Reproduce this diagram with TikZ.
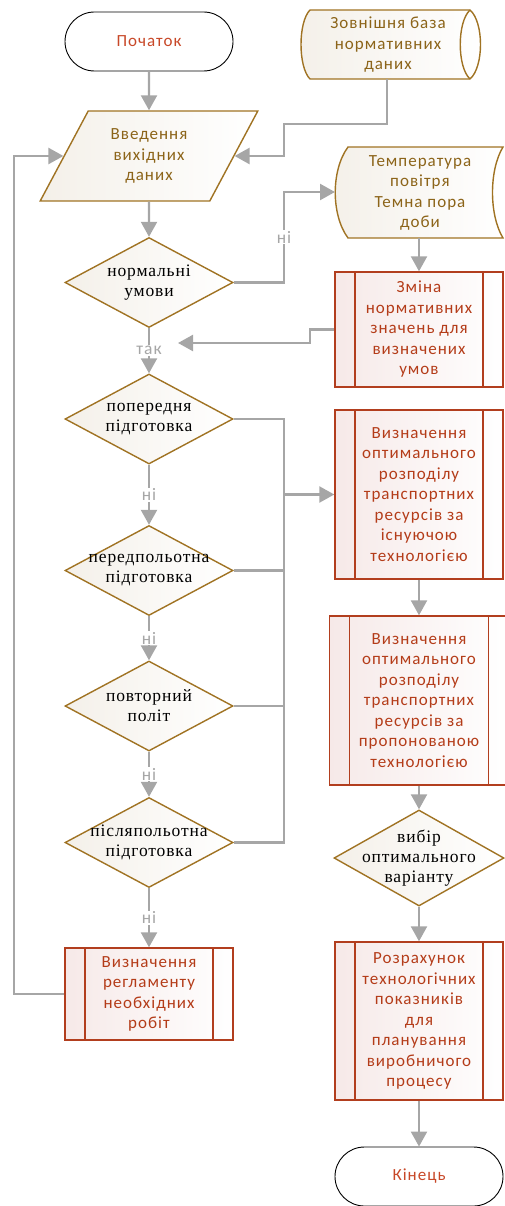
\documentclass[tikz,border=0pt]{standalone}
\usepackage{fontspec}
\usetikzlibrary{shapes.geometric,arrows.meta}
\newfontfamily\sansf[LetterSpace=6]{Carlito}
\newfontfamily\serf[LetterSpace=5]{Liberation Serif}
\definecolor{linegray}{RGB}{166,166,166}
\definecolor{goldb}{RGB}{160,115,35}
\definecolor{goldt}{RGB}{140,100,25}
\definecolor{redb}{RGB}{178,62,30}
\definecolor{redt}{RGB}{180,60,25}
\definecolor{termred}{RGB}{200,72,40}
\definecolor{beigef}{RGB}{244,240,233}
\definecolor{pinkf}{RGB}{246,233,232}
\newcommand{\boxfont}{\sansf\fontsize{17}{20.5}\selectfont}
\newcommand{\diafont}{\serf\fontsize{17.5}{20}\selectfont}
\newcommand{\lblfont}{\sansf\fontsize{17.5}{19}\selectfont}
\tikzset{
  conn/.style={draw=linegray, line width=2.3pt},
  arr/.style={conn, -{Triangle[length=15pt,width=16pt]}},
  lbl/.style={fill=white, text=linegray, inner sep=1pt, font=\lblfont},
  term/.style={draw=black, line width=0.9pt, fill=white, rounded corners=29.5pt,
    minimum width=168pt, minimum height=59pt, text=termred, font=\boxfont},
  inbox/.style={trapezium, trapezium left angle=61, trapezium right angle=119,
    trapezium stretches=true, draw=goldb, line width=1.4pt, left color=beigef,
    right color=white, minimum width=218pt, minimum height=90pt, inner sep=0pt,
    align=center, text=goldt, font=\boxfont},
  datab/.style={draw=goldb, line width=1.4pt},
  datatxt/.style={align=center, text=goldt, font=\boxfont},
  decision/.style={diamond, draw=goldb, line width=1.4pt, left color=beigef,
    right color=white, minimum width=168pt, minimum height=90pt, inner sep=0pt},
  dtxt/.style={align=center, text=black, font=\diafont},
  proc/.style={draw=redb, line width=1.4pt, left color=pinkf, right color=white,
    minimum width=168pt, align=center, text=redt, font=\boxfont,
    path picture={\draw[redb, line width=1.4pt]
      ([xshift=20pt]path picture bounding box.north west) -- ([xshift=20pt]path picture bounding box.south west)
      ([xshift=-20pt]path picture bounding box.north east) -- ([xshift=-20pt]path picture bounding box.south east);}},
}
\begin{document}
\begin{tikzpicture}[x=1pt,y=-1pt]
\useasboundingbox (0,0) rectangle (505,1206);

\node[term] (start) at (149,41.5) {Початок};
\node[inbox] (in) at (149,156) {Введення\\вихідних\\даних};

\draw[datab, left color=beigef, right color=white] (310,10) -- (470,10)
  .. controls (484,22) and (484,67) .. (470,79) -- (310,79)
  .. controls (298,67) and (298,22) .. (310,10) -- cycle;
\draw[datab] (470,10) .. controls (457,22) and (457,67) .. (470,79);
\node[datatxt] (db) at (388,45) {Зовнішня база\\нормативних\\даних};
\coordinate (dbS) at (387,79);

\draw[datab, left color=beigef, right color=white] (348,147) -- (503,147)
  .. controls (489,170) and (489,215) .. (503,238) -- (348,238)
  .. controls (331,215) and (331,170) .. (348,147) -- cycle;
\node[datatxt] (temp) at (420,193) {Температура\\повітря\\Темна пора\\доби};
\coordinate (tempW) at (335,192);
\coordinate (tempS) at (419,238);

\node[decision, label={[dtxt]center:нормальні\\умови}] (d1) at (149,282.5) {};
\node[decision, label={[dtxt]center:попередня\\підготовка}] (d2) at (149,419) {};
\node[decision, label={[dtxt]center:передпольотна\\підготовка}] (d3) at (149,570.5) {};
\node[decision, label={[dtxt]center:повторний\\політ}] (d4) at (149,706) {};
\node[decision, label={[dtxt]center:післяпольотна\\підготовка}] (d5) at (149,842.5) {};
\node[proc, minimum height=92pt] (reg) at (149,994) {Визначення\\регламенту\\необхідних\\робіт};

\node[proc, minimum height=115pt] (chg) at (419,329.5) {Зміна\\нормативних\\значень для\\визначених\\умов};
\node[proc, minimum height=169pt] (opt1) at (419,494.5) {Визначення\\оптимального\\розподілу\\транспортних\\ресурсів за\\існуючою\\технологією};
\node[proc, minimum height=169pt, minimum width=179pt] (opt2) at (419,700.5) {Визначення\\оптимального\\розподілу\\транспортних\\ресурсів за\\пропонованою\\технологією};
\node[decision, minimum width=170pt, minimum height=96pt, label={[dtxt]center:вибір\\оптимального\\варіанту}] (d6) at (419,858) {};
\node[proc, minimum height=158pt] (calc) at (419,1021) {Розрахунок\\технологічних\\показників\\для\\планування\\виробничого\\процесу};
\node[term] (finish) at (419,1176.5) {Кінець};

\coordinate (takIn) at (178,343);
\coordinate (bus) at (284,494.5);

\draw[arr] (start) -- (in);
\draw[arr] (dbS) |- (284,124) |- (in.east);
\draw[arr] (reg.west) -- (14,994) |- (in.west);
\draw[arr] (in) -- (d1);
\draw[arr] (d1.east) -- (d1.east -| bus) |- node[lbl, pos=0.25] {ні} (tempW);
\draw[arr] (tempS) -- (chg);
\draw[arr] (chg.west) -- (310,329.5) |- (takIn);
\draw[arr] (d1) -- node[lbl] (tak) {так} (d2);
\draw[arr] (d2) -- node[lbl] {ні} (d3);
\draw[arr] (d3) -- node[lbl] {ні} (d4);
\draw[arr] (d4) -- node[lbl] {ні} (d5);
\draw[arr] (d5) -- node[lbl] {ні} (reg);
\draw[conn] (d2.east) -- (d2.east -| bus) -- (d5.east -| bus) -- (d5.east);
\draw[conn] (d3.east) -- (d3.east -| bus);
\draw[conn] (d4.east) -- (d4.east -| bus);
\draw[arr] (bus) -- (opt1.west);
\draw[arr] (opt1) -- (opt2);
\draw[arr] (opt2) -- (d6);
\draw[arr] (d6) -- (calc);
\draw[arr] (calc) -- (finish);
\end{tikzpicture}
\end{document}
